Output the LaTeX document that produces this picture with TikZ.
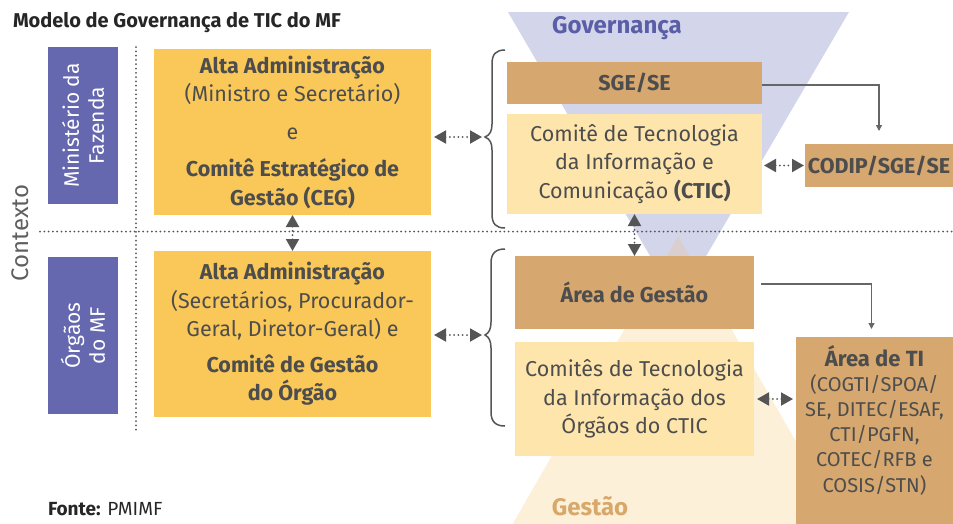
\documentclass[tikz,border=0pt]{standalone}
\usepackage{fontspec}
\setmainfont{Fira Sans}
\usetikzlibrary{arrows.meta}
\definecolor{txtgray}{HTML}{4D4D4D}
\definecolor{lngray}{HTML}{555555}
\definecolor{purp}{HTML}{6567AF}
\definecolor{yel}{HTML}{F9C859}
\definecolor{tan}{HTML}{D6A76E}
\definecolor{lyel}{HTML}{FEE5AC}
\definecolor{lav}{HTML}{D3D6EA}
\definecolor{cream}{HTML}{FDF0D8}
\definecolor{ovl}{HTML}{D9CFD1}
\definecolor{govtxt}{HTML}{5A5EA8}
\definecolor{gestxt}{HTML}{D8A86A}
\newcommand{\bodyfont}{\fontsize{21.5}{28.5}\selectfont}
\begin{document}
\begin{tikzpicture}[x=1pt,y=-1pt,
  every node/.style={inner sep=0pt, outer sep=0pt},
  boxbase/.style={minimum width=#1, text=txtgray, align=center, font=\bodyfont},
  purpbox/.style={fill=purp, minimum width=157, minimum height=70, rotate=90, text=white, align=center, font=\fontsize{21}{25}\selectfont},
  dotline/.style={draw=lngray, line width=2pt, line cap=round, dash pattern=on 0pt off 4.3pt},
  dar/.style={dotline, {Triangle[length=12pt,width=13pt]}-{Triangle[length=12pt,width=13pt]}},
  conn/.style={draw=lngray!90, line width=1.3pt, -{Triangle[length=6pt,width=6pt]}},
  bracestyle/.style={draw=lngray, line width=1.5pt},
]
\useasboundingbox (0,0) rectangle (953,523);
% background triangles
\fill[cream] (678,236) -- (864,560) -- (492,560) -- cycle;
\fill[lav] (508,12) -- (849,12) -- (678,304) -- cycle;
\begin{scope}
  \clip (508,12) -- (849,12) -- (678,304) -- cycle;
  \fill[ovl] (678,236) -- (864,560) -- (492,560) -- cycle;
\end{scope}
\node[text=govtxt, font=\bfseries\fontsize{24}{28}\selectfont] (gov) at (617,28) {Governança};
\node[text=gestxt, font=\bfseries\fontsize{24}{28}\selectfont] (ges) at (590,506) {Gestão};
% title
\node[anchor=base west, text=black!85, font=\bfseries\fontsize{20}{24}\selectfont] (title) at (13,27) {Modelo de Governança de TIC do MF};
\node[anchor=base west, text=black!85, font=\fontsize{19}{24}\selectfont] (fonte) at (48,515) {\textbf{Fonte:} PMIMF};
% context
\node[rotate=90, text=txtgray!90, font=\fontsize{24}{28}\selectfont] (ctx) at (20,233) {Contexto};
\coordinate (vl1) at (136,47);
\coordinate (vl2) at (136,430);
\coordinate (hl1) at (40,231.5);
\coordinate (hl2) at (953,231.5);
\draw[dotline] (vl1) -- (vl2);
\draw[dotline] (hl1) -- (hl2);
% purple boxes
\node[purpbox] (mf) at (83,125.5) {Ministério da\\Fazenda};
\node[purpbox] (org) at (83,335.5) {Órgãos\\do MF};
% yellow boxes
\node[boxbase=277, minimum height=166, fill=yel] (alta1) at (292.5,132)
  {\textbf{Alta Administração}\\(Ministro e Secretário)\\[9pt]e\\[9pt]\textbf{Comitê Estratégico de}\\\textbf{Gestão (CEG)}};
\node[boxbase=277, minimum height=166, fill=yel] (alta2) at (292.5,334)
  {\textbf{Alta Administração}\\(Secretários, Procurador-\\Geral, Diretor-Geral) e\\[7pt]\textbf{Comitê de Gestão}\\\textbf{do Órgão}};
% right boxes
\node[boxbase=255, minimum height=42, fill=tan, font=\bfseries\bodyfont] (sge) at (634.5,83) {SGE/SE};
\node[boxbase=255, minimum height=100, fill=lyel] (ctic) at (634.5,164)
  {Comitê de Tecnologia\\da Informação e\\Comunicação \textbf{(CTIC)}};
\node[boxbase=148, minimum height=43, fill=tan, font=\bfseries\bodyfont] (codip) at (879,165.5) {CODIP/SGE/SE};
\node[boxbase=239, minimum height=73, fill=tan, font=\bfseries\bodyfont] (areag) at (634.5,292.5) {Área de Gestão};
\node[boxbase=239, minimum height=114, fill=lyel] (comites) at (634.5,399)
  {Comitês de Tecnologia\\da Informação dos\\Órgãos do CTIC};
\node[minimum width=157, minimum height=200, fill=tan, anchor=north west] (areati) at (796,337) {};
\node[text=txtgray, align=center, font=\fontsize{20}{25.2}\selectfont] (areatitxt) at (874.5,420)
  {\textbf{\fontsize{22}{25.2}\selectfont Área de TI}\\(COGTI/SPOA/\\SE, DITEC/ESAF,\\CTI/PGFN,\\COTEC/RFB e\\COSIS/STN)};
% braces
\coordinate (b1) at (485,137);
\coordinate (b2) at (485,335);
\draw[bracestyle] (505,50) .. controls (496,50) and (492,54) .. (492,64) -- (492,124)
  .. controls (492,131) and (490,135) .. (b1) .. controls (490,139) and (492,143) .. (492,150)
  -- (492,214) .. controls (492,224) and (496,228) .. (505,228);
\draw[bracestyle] (505,249) .. controls (496,249) and (491,253) .. (491,263) -- (491,322)
  .. controls (491,329) and (489,333) .. (b2) .. controls (489,337) and (491,341) .. (491,348)
  -- (491,412) .. controls (491,422) and (496,426) .. (505,426);
% dotted double arrows
\draw[dar, shorten <=3pt, shorten >=3pt] (alta1.east |- b1) -- (b1);
\draw[dar, shorten <=3pt, shorten >=3pt] (alta2.east |- b2) -- (b2);
\draw[dar] (alta1.south) -- (alta2.north);
\draw[dar] (ctic.south) -- (areag.north);
\draw[dar, shorten <=2pt, shorten >=1pt] (ctic.east |- codip.west) -- (codip.west);
\draw[dar, shorten <=3pt, shorten >=3pt] (comites.east) -- (comites.east -| areati.west);
% elbow connectors
\draw[conn, shorten >=13pt] ([yshift=-2pt]sge.east) -| (codip.north);
\draw[conn, shorten <=7pt, shorten >=8pt] ([yshift=8.5pt]areag.east) -| ([xshift=-3pt]areati.north);
\end{tikzpicture}
\end{document}
